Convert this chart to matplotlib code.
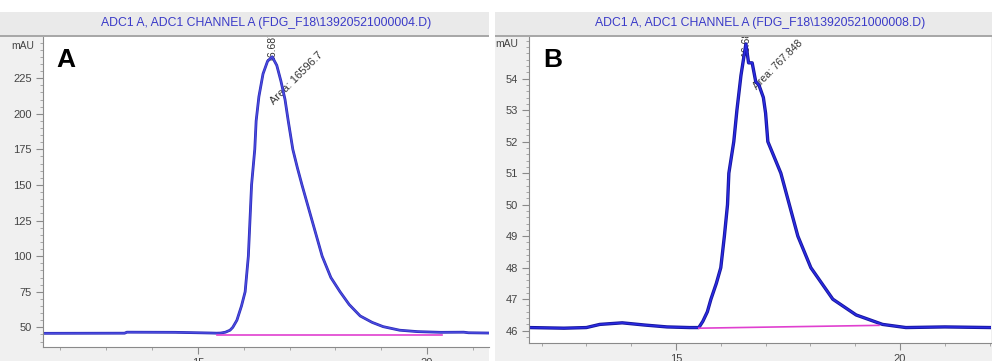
import matplotlib
matplotlib.use("Agg")
import matplotlib.pyplot as plt
from matplotlib.patches import Rectangle
from matplotlib.ticker import MultipleLocator

plt.rcParams["font.family"] = ["Liberation Sans", "DejaVu Sans"]

# chromatogram A
a_time = [11.62, 13.40, 13.45, 14.50, 15.00, 15.30, 15.41, 15.50, 15.60, 15.70, 15.76,
          15.85, 15.95, 16.03, 16.10, 16.17, 16.24, 16.27, 16.33, 16.42, 16.52, 16.62,
          16.72, 16.81, 16.90, 16.97, 17.07, 17.17, 17.27, 17.49, 17.71, 17.90, 18.10,
          18.30, 18.54, 18.80, 19.04, 19.40, 19.79, 20.30, 20.80, 20.90, 21.35]
a_signal = [45.8, 45.9, 46.6, 46.5, 46.2, 46.0, 45.9, 46.0, 46.6, 48.0, 50.0,
            55.0, 65.0, 75.0, 100.0, 150.0, 175.0, 195.0, 212.0, 228.0, 237.0, 240.0,
            234.0, 223.0, 210.0, 195.0, 175.0, 162.0, 150.0, 125.0, 100.0, 85.0, 75.0,
            66.0, 58.0, 53.5, 50.5, 48.0, 47.0, 46.5, 46.6, 46.2, 46.0]
a_base_time = [15.41, 20.33]
a_base_signal = [44.6, 44.6]

# chromatogram B
b_time = [11.72, 12.50, 13.00, 13.30, 13.80, 14.30, 14.80, 15.30, 15.51, 15.60, 15.70,
          15.78, 15.90, 16.00, 16.08, 16.15, 16.18, 16.29, 16.36, 16.45, 16.56, 16.62,
          16.70, 16.78, 16.85, 16.95, 17.00, 17.05, 17.34, 17.53, 17.72, 18.01, 18.50,
          19.02, 19.61, 20.13, 21.00, 22.03]
b_signal = [46.10, 46.08, 46.10, 46.20, 46.25, 46.18, 46.12, 46.10, 46.10, 46.30, 46.60,
            47.00, 47.50, 48.00, 49.00, 50.00, 51.00, 52.00, 53.00, 54.10, 55.10, 54.50,
            54.50, 53.90, 53.80, 53.40, 52.90, 52.00, 51.00, 50.00, 49.00, 48.00, 47.00,
            46.50, 46.20, 46.10, 46.12, 46.10]
b_base_time = [15.51, 19.53]
b_base_signal = [46.08, 46.17]

titles = ["ADC1 A, ADC1 CHANNEL A (FDG_F18\\13920521000004.D)",
          "ADC1 A, ADC1 CHANNEL A (FDG_F18\\13920521000008.D)"]

W, H = 992, 361
fig = plt.figure(figsize=(W / 100, H / 100), dpi=100)

def fx(px):
    return px / W

def fy(py):
    return 1 - py / H

# panel backgrounds and title bars
for x0, x1 in [(0, 489), (495, 992)]:
    fig.patches.append(Rectangle((fx(x0), 0), fx(x1 - x0), fy(12), transform=fig.transFigure,
                                 facecolor="#f0f0f0", edgecolor="none", zorder=-2))
    fig.patches.append(Rectangle((fx(x0), fy(35)), fx(x1 - x0), 23 / H, transform=fig.transFigure,
                                 facecolor="#eaeaea", edgecolor="none", zorder=5))
    fig.patches.append(Rectangle((fx(x0), fy(37)), fx(x1 - x0), 2 / H, transform=fig.transFigure,
                                 facecolor="#a8a8a8", edgecolor="none", zorder=5))

ax_a = fig.add_axes([fx(43), fy(347), fx(489 - 43), (347 - 37) / H])
ax_b = fig.add_axes([fx(529), fy(343), fx(991 - 529), (343 - 37) / H])

for ax in (ax_a, ax_b):
    ax.set_facecolor("white")
    ax.spines["top"].set_visible(False)
    ax.spines["right"].set_visible(False)
    ax.spines["left"].set_color("#8a8a8a")
    ax.spines["bottom"].set_color("#8a8a8a")
    ax.tick_params(which="major", length=5, color="#8a8a8a", labelsize=8, labelcolor="#444444", pad=3)
    ax.tick_params(which="minor", length=2.5, color="#9a9a9a")
    ax.tick_params(axis="x", pad=3)
    ax.xaxis.set_major_locator(MultipleLocator(5))
    ax.xaxis.set_minor_locator(MultipleLocator(1))

# panel A
ax_a.plot(a_time, a_signal, color="#2a2ab8", lw=2.0)
ax_a.plot(a_time, a_signal, color="#4b4be0", lw=1.0)
ax_a.plot(a_base_time, a_base_signal, color="#e040d0", lw=1.2)
ax_a.set_xlim(11.62, 21.35)
ax_a.set_ylim(36.2, 253.9)
ax_a.set_yticks([50, 75, 100, 125, 150, 175, 200, 225])
ax_a.yaxis.set_minor_locator(MultipleLocator(5))
ax_a.text(16.62, 236, "16.687", rotation=90, ha="center", va="bottom", fontsize=7.5,
          color="#333333", clip_on=True, zorder=1)
ax_a.text(16.70, 205, "Area: 16596.7", rotation=45, rotation_mode="anchor", ha="left",
          va="bottom", fontsize=8, color="#333333", clip_on=False, zorder=1)
ax_a.text(0.03, 0.925, "A", transform=ax_a.transAxes, fontsize=19, fontweight="bold",
          ha="left", va="center")
fig.text(fx(34), fy(46), "mAU", ha="right", va="center", fontsize=7.5, color="#444444")

# panel B
ax_b.plot(b_time, b_signal, color="#15159a", lw=2.4)
ax_b.plot(b_time, b_signal, color="#2a2ae0", lw=1.2)
ax_b.plot(b_base_time, b_base_signal, color="#e040d0", lw=1.2)
ax_b.set_xlim(11.72, 22.03)
ax_b.set_ylim(45.61, 55.32)
ax_b.set_yticks([46, 47, 48, 49, 50, 51, 52, 53, 54])
ax_b.yaxis.set_minor_locator(MultipleLocator(0.2))
ax_b.text(16.56, 54.7, "16.689", rotation=90, ha="center", va="bottom", fontsize=7.5,
          color="#333333", clip_on=True, zorder=1)
ax_b.text(16.83, 53.6, "Area: 767.848", rotation=45, rotation_mode="anchor", ha="left",
          va="bottom", fontsize=7.5, color="#333333", clip_on=False, zorder=1)
ax_b.text(0.03, 0.925, "B", transform=ax_b.transAxes, fontsize=19, fontweight="bold",
          ha="left", va="center")
fig.text(fx(518), fy(44), "mAU", ha="right", va="center", fontsize=7.5, color="#444444")

# titles
fig.text(fx(266), fy(23), titles[0], ha="center", va="center", fontsize=8.8,
         color="#3a3ac8", zorder=6)
fig.text(fx(760), fy(23), titles[1], ha="center", va="center", fontsize=8.8,
         color="#3a3ac8", zorder=6)

fig.savefig("out.png", dpi=100, facecolor="white")
